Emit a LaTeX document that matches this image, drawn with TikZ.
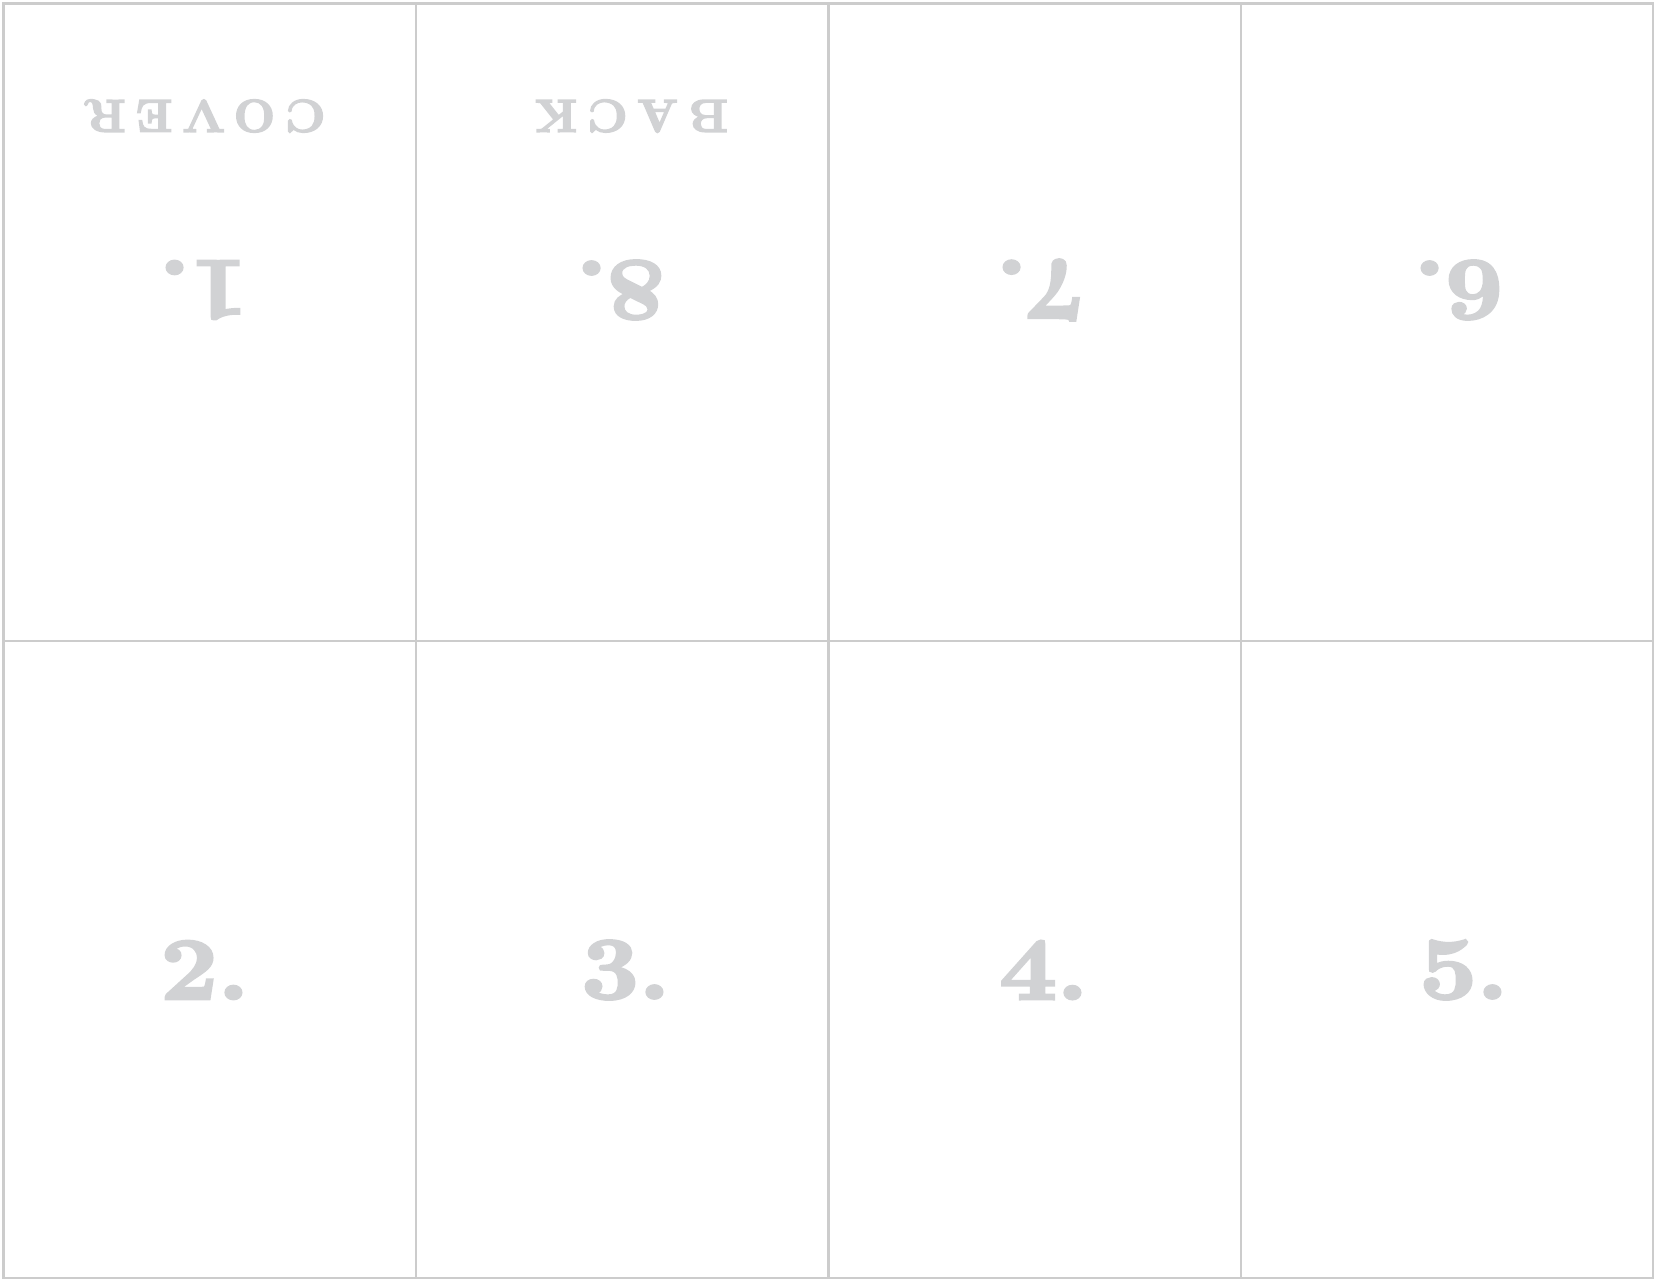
\documentclass[tikz,border=0pt]{standalone}
\usepackage{fontspec}
\setmainfont{Latin Modern Roman}
\definecolor{gridline}{HTML}{CCCCCC}
\definecolor{numgray}{HTML}{D1D2D4}
\begin{document}
\begin{tikzpicture}[x=1pt,y=-1pt,
  cell/.style={draw=gridline,line width=2.6pt,minimum width=412.5pt,minimum height=637.5pt,inner sep=0pt,anchor=north west},
  num/.style={text=numgray,inner sep=0pt,xscale=1.15,font=\fontsize{88}{88}\selectfont\bfseries\addfontfeature{FakeBold=3.5}},
  word/.style={text=numgray,inner sep=0pt,xscale=1.06,font=\fontsize{46}{46}\selectfont\bfseries\addfontfeature{LetterSpace=22,FakeBold=3.5}},
  flip/.style={rotate=180}]
\useasboundingbox (0,0) rectangle (1654,1279);
% grid cells
\node[cell] (c1) at (2,2) {};
\node[cell] (c8) at (414.5,2) {};
\node[cell] (c7) at (827,2) {};
\node[cell] (c6) at (1239.5,2) {};
\node[cell] (c2) at (2,639.5) {};
\node[cell] (c3) at (414.5,639.5) {};
\node[cell] (c4) at (827,639.5) {};
\node[cell] (c5) at (1239.5,639.5) {};
% top row (upside down)
\node[word,flip] (wcover) at (205,116) {COVER};
\node[word,flip] (wback) at (631,116) {BACK};
\node[num,flip] (n1) at (203,290) {1.};
\node[num,flip] (n8) at (620,290) {8.};
\node[num,flip] (n7) at (1040,290) {7.};
\node[num,flip] (n6) at (1458,290) {6.};
% bottom row
\node[num] (n2) at (205,970) {2.};
\node[num] (n3) at (626,970) {3.};
\node[num] (n4) at (1044,970) {4.};
\node[num] (n5) at (1464,970) {5.};
\end{tikzpicture}
\end{document}
